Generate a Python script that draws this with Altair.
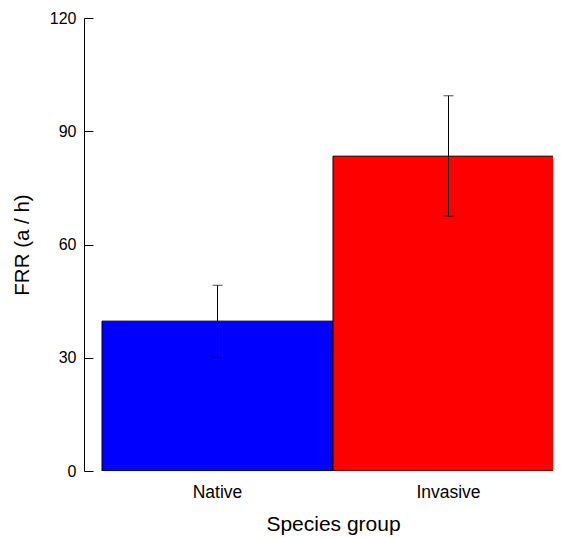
import altair as alt
import pandas as pd

groups = ["Native", "Invasive"]
frr = [39.7, 83.4]
err_low = [30.1, 67.5]
err_high = [49.2, 99.4]
colors = ["#0000ff", "#ff0000"]

df = pd.DataFrame({"group": groups, "frr": frr, "lo": err_low, "hi": err_high, "color": colors})

FONT = "Liberation Sans"
PLOT_W = 469
PLOT_H = 453

x_enc = alt.X(
    "group:N",
    sort=groups,
    scale=alt.Scale(paddingInner=0, paddingOuter=0, range=[18, 480]),
    axis=alt.Axis(
        title="Species group", domain=False, ticks=False, labelAngle=0,
        labelFontSize=17.5, labelPadding=12, titleFontSize=21, titlePadding=13,
        titleX=249, titleAlign="center",
        labelColor="black", titleColor="black", labelFont=FONT, titleFont=FONT,
        titleFontWeight="normal",
    ),
)

y_scale = alt.Scale(domain=[0, 120], nice=False)

bars = alt.Chart(df).mark_bar(stroke="black", strokeWidth=1, clip=True).encode(
    x=x_enc,
    y=alt.Y(
        "frr:Q", scale=y_scale,
        axis=alt.Axis(
            title="FRR (a / h)", values=[0, 30, 60, 90, 120], grid=False,
            ticks=False, domainColor="black", domainWidth=1,
            labelFontSize=16, labelPadding=8, titleFontSize=20.5, titlePadding=17,
            labelColor="black", titleColor="black", labelFont=FONT, titleFont=FONT,
            titleFontWeight="normal",
        ),
    ),
    color=alt.Color("color:N", scale=None, legend=None),
)

errs = alt.Chart(df).mark_errorbar(ticks=alt.MarkConfig(size=10, color="black"), color="black", thickness=1).encode(
    x=alt.X("group:N", sort=groups),
    y=alt.Y("lo:Q", scale=y_scale,
            axis=alt.Axis(orient="right", offset=-PLOT_W, labels=False, domain=False,
                          grid=False, tickSize=9, tickColor="black", title=None,
                          values=[0, 30, 60, 90, 120])),
    y2="hi:Q",
)

chart = alt.layer(bars, errs).resolve_axis(y="independent").properties(
    width=PLOT_W, height=PLOT_H, padding={"left": 4, "top": 2, "right": 0, "bottom": 0}
).configure(font=FONT).configure_view(stroke=None)

chart.save("out.html", embed_options={"renderer": "svg", "actions": False})
